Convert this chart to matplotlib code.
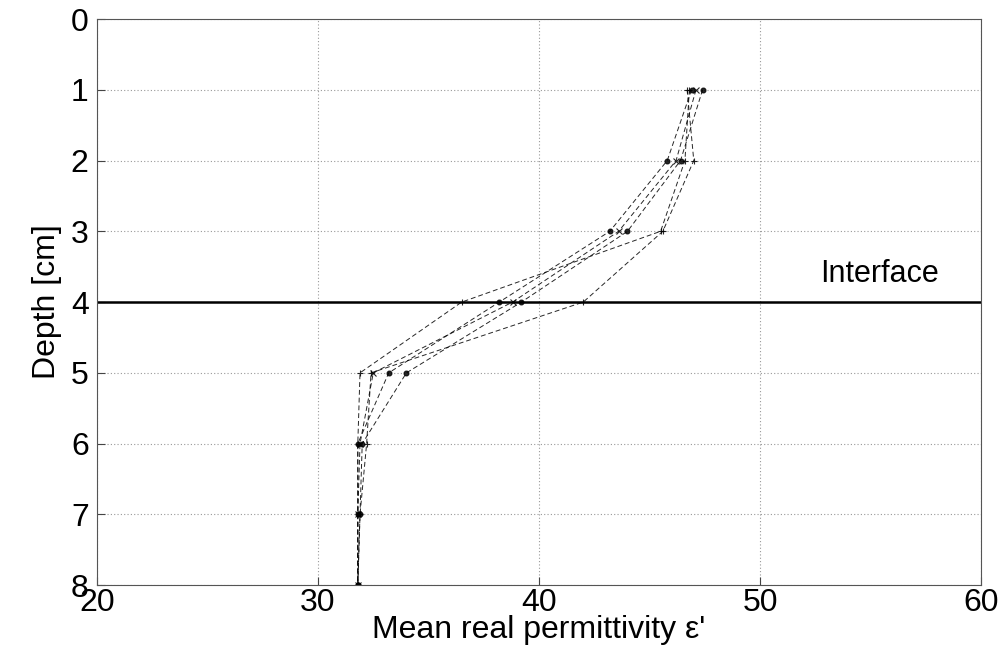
import numpy as np
import matplotlib
matplotlib.use("Agg")
import matplotlib.pyplot as plt

# ============================================================
# DATA
# ============================================================

depth = [1, 2, 3, 4, 5, 6, 7, 8]

eps_a = [47.4, 46.4, 44.0, 39.2, 34.0, 32.0, 31.9, 31.8]   # dots
eps_b = [46.9, 45.8, 43.2, 38.2, 33.2, 31.8, 31.8, 31.8]   # dots
eps_c = [46.7, 47.0, 45.6, 42.0, 32.4, 32.2, 31.9, 31.8]   # plus
eps_d = [46.8, 46.6, 45.5, 36.5, 31.9, 31.8, 31.8, 31.8]   # plus
eps_e = [47.1, 46.2, 43.6, 38.8, 32.5, 31.9, 31.8, 31.8]   # cross

series = [(eps_a, "."), (eps_b, "."), (eps_c, "+"), (eps_d, "+"), (eps_e, "x")]

interface_depth = 4
xticks = [20, 30, 40, 50, 60]
yticks = [0, 1, 2, 3, 4, 5, 6, 7, 8]

# ============================================================
# PLOT
# ============================================================

plt.rcParams["font.family"] = ["Liberation Sans", "DejaVu Sans"]

fig = plt.figure(figsize=(10.07, 6.56), dpi=100)
ax = fig.add_axes([0.0963, 0.108, 0.878, 0.863])

for vals, mk in series:
    ms = 7 if mk == "." else 5
    ax.plot(vals, depth, color="black", linestyle=(0, (5, 3)), linewidth=0.7,
            marker=mk, markersize=ms, markeredgewidth=0.8, alpha=0.85)

ax.axhline(interface_depth, color="black", linewidth=1.8)
ax.text(52.7, 3.6, "Interface", fontsize=22, ha="left", va="center")

ax.set_xlim(20, 60)
ax.set_ylim(8, 0)
ax.set_xticks(xticks)
ax.set_yticks(yticks)
ax.tick_params(direction="in", labelsize=23, length=6, color="#444444", pad=6)
ax.tick_params(axis="x", pad=2)
ax.grid(True, linestyle=(0, (1, 2)), color="#999999", linewidth=0.8)
for sp in ax.spines.values():
    sp.set_color("#555555")

ax.set_xlabel("Mean real permittivity \u03b5'", fontsize=23, labelpad=-2)
ax.set_ylabel("Depth [cm]", fontsize=23, labelpad=6)

fig.savefig("out.png", dpi=100)
